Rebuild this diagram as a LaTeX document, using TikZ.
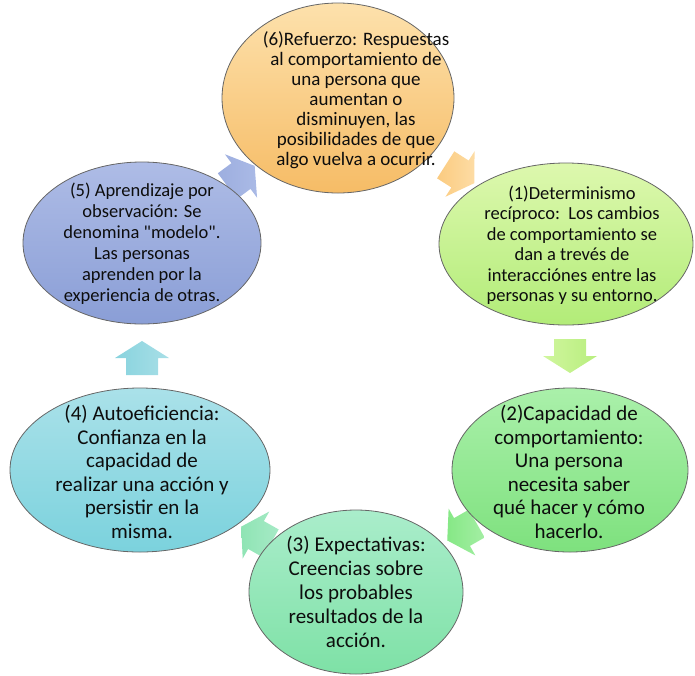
\documentclass[tikz,border=0pt]{standalone}
\usepackage{fontspec}
\setmainfont{Carlito}[Ligatures=TeXOff]
\usetikzlibrary{shapes.geometric}
\definecolor{aBlueA}{HTML}{9DAEDF}\definecolor{aBlueB}{HTML}{AABAE6}
\definecolor{aOrA}{HTML}{FBCB80}\definecolor{aOrB}{HTML}{FDDCA4}
\definecolor{aYgA}{HTML}{D0F69E}\definecolor{aYgB}{HTML}{B8EE7E}
\definecolor{aGrA}{HTML}{86E886}\definecolor{aGrB}{HTML}{A4EEA4}
\definecolor{aMiA}{HTML}{8FE4B4}\definecolor{aMiB}{HTML}{A6EAC6}
\definecolor{aCyA}{HTML}{88D3DE}\definecolor{aCyB}{HTML}{A8DFE7}
\definecolor{eOrT}{HTML}{FDE1AC}\definecolor{eOrB}{HTML}{F6BC66}
\definecolor{eYgT}{HTML}{DDF8AE}\definecolor{eYgB}{HTML}{B2EC78}
\definecolor{eGrT}{HTML}{AAF0AA}\definecolor{eGrB}{HTML}{7EE17E}
\definecolor{eMiT}{HTML}{AAEDCB}\definecolor{eMiB}{HTML}{7EE1A6}
\definecolor{eCyT}{HTML}{AAE1E9}\definecolor{eCyB}{HTML}{7BD2DD}
\definecolor{eBlT}{HTML}{AEBCE6}\definecolor{eBlB}{HTML}{8A9ED6}
\tikzset{
  bubble/.style={ellipse, draw=black!60, line width=0.8pt, inner sep=0pt},
  txt/.style={align=center, text=black!95, inner sep=0pt},
}
\newcommand\blockarr[4]{%
  \begin{scope}[shift={#1}, rotate=#2]
    \shade[left color=#3, right color=#4]
      (-17,-16) -- (0,-16) -- (0,-27) -- (17,0) -- (0,27) -- (0,16) -- (-17,16) -- cycle;
  \end{scope}}
\begin{document}
\begin{tikzpicture}[x=1pt,y=-1pt]
\useasboundingbox (0,0) rectangle (695,675);

% block arrows (behind the ellipses)
\blockarr{(241,176)}{36.5}{aBlueA}{aBlueB}
\blockarr{(460,174)}{-32.6}{aOrA}{aOrB}
\blockarr{(570,356)}{-90}{aYgA}{aYgB}
\blockarr{(462,532)}{-150.3}{aGrA}{aGrB}
\blockarr{(256,535)}{150.5}{aMiA}{aMiB}
\blockarr{(142,358)}{90}{aCyA}{aCyB}

% ellipses
\node[bubble, minimum width=232pt, minimum height=190pt, top color=eOrT, bottom color=eOrB] (e6) at (338,98) {};
\node[bubble, minimum width=254pt, minimum height=162pt, top color=eYgT, bottom color=eYgB] (e1) at (566,244) {};
\node[bubble, minimum width=236pt, minimum height=164pt, top color=eGrT, bottom color=eGrB] (e2) at (570,470) {};
\node[bubble, minimum width=214pt, minimum height=164pt, top color=eMiT, bottom color=eMiB] (e3) at (356,592) {};
\node[bubble, minimum width=260pt, minimum height=164pt, top color=eCyT, bottom color=eCyB] (e4) at (140,470) {};
\node[bubble, minimum width=238pt, minimum height=162pt, top color=eBlT, bottom color=eBlB] (e5) at (142,243) {};

% texts
\node[txt, font=\fontsize{19}{20}\selectfont] (t6) at (356,100)
  {(6)Refuerzo: Respuestas\\al comportamiento de\\una persona que\\aumentan o\\disminuyen, las\\posibilidades de que\\algo vuelva a ocurrir.};
\node[txt, font=\fontsize{18.5}{20.5}\selectfont] (t1) at (572,245)
  {(1)Determinismo\\recíproco:\ \ Los cambios\\de comportamiento se\\dan a trevés de\\interacciónes entre las\\personas y su entorno.};
\node[txt, font=\fontsize{21}{23.5}\selectfont] (t2) at (569,472)
  {(2)Capacidad de\\comportamiento:\\Una persona\\necesita saber\\qué hacer y cómo\\hacerlo.};
\node[txt, font=\fontsize{21}{24}\selectfont] (t3) at (356,592)
  {(3) Expectativas:\\Creencias sobre\\los probables\\resultados de la\\acción.};
\node[txt, font=\fontsize{21}{23.5}\selectfont] (t4) at (142,472)
  {(4) Autoeficiencia:\\Confianza en la\\capacidad de\\realizar una acción y\\persistir en la\\misma.};
\node[txt, font=\fontsize{18.5}{21}\selectfont] (t5) at (142,244)
  {(5) Aprendizaje por\\observación: Se\\denomina "modelo".\\Las personas\\aprenden por la\\experiencia de otras.};
\end{tikzpicture}
\end{document}
